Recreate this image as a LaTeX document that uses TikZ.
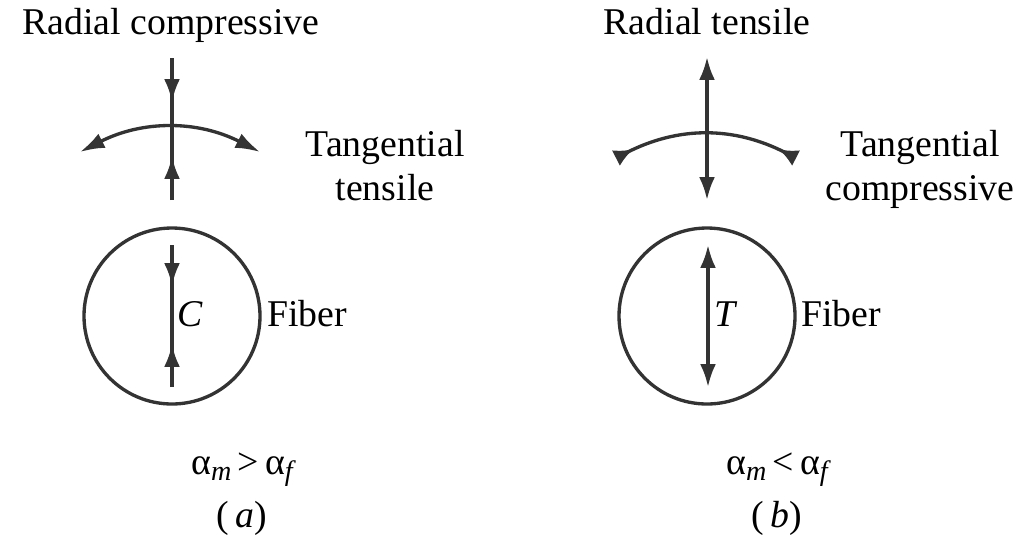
\documentclass[tikz,border=0pt]{standalone}
\usepackage{fontspec}
\setmainfont{Liberation Serif}
\usetikzlibrary{arrows.meta, positioning}

\newcommand{\alphsub}[1]{α\raisebox{-0.4ex}{\fontsize{16}{16}\selectfont\itshape #1}}

\begin{document}
\begin{tikzpicture}[x=0.02cm, y=-0.02cm, line join=round,
    lbl/.style={font=\fontsize{21.5}{24}\selectfont, inner sep=0pt, anchor=base},
    stress/.style={line width=1.9pt, draw=black!80},
    tip/.style={-{Latex[length=13pt, width=9pt]}},
    twotip/.style={{Latex[length=13pt, width=9pt]}-{Latex[length=13pt, width=9pt]}},
    arctip/.style={{Latex[length=14pt, width=9pt]}-{Latex[length=14pt, width=9pt]}},
    arcrev/.style={{Latex[length=11pt, width=10pt, reversed]}-{Latex[length=11pt, width=10pt, reversed]}},
    fiber/.style={circle, draw=black!80, line width=1.9pt, minimum size=176*0.02cm, inner sep=0pt}]
  \useasboundingbox (0,0) rectangle (1033,542);

  % (a) matrix shrinks more than the fiber
  \node[lbl] (radA) at (171,34) {Radial compressive};
  \coordinate (topA) at (172,58);
  \coordinate (tip1A) at (172,102);
  \coordinate (tip2A) at (172,156);
  \coordinate (botA) at (172,200);
  \coordinate (arcLA) at (80,152);
  \coordinate (arcRA) at (260,152);
  \draw[stress] (topA) -- (botA);
  \draw[stress, tip] (topA) -- (tip1A);
  \draw[stress, tip] (botA) -- (tip2A);
  \draw[stress, arctip] (arcLA) to[bend left=27] (arcRA);
  \node[lbl] (tanA) at (385,156) {Tangential};
  \node[lbl] (tenA) at (385,200) {tensile};

  \node[fiber] (fibA) at (172,316) {};
  \coordinate (in1A) at (172,245);
  \coordinate (in2A) at (172,286);
  \coordinate (in3A) at (172,344);
  \coordinate (in4A) at (172,387);
  \draw[stress] (in1A) -- (in4A);
  \draw[stress, tip] (in1A) -- (in2A);
  \draw[stress, tip] (in4A) -- (in3A);
  \node[lbl, font=\fontsize{21.5}{24}\selectfont\itshape] (cA) at (190,326) {C};
  \node[lbl, anchor=base west] (fibtA) at (267,326) {Fiber};
  \node[lbl] (relA) at (242,474) {\alphsub{m}\,>\,\alphsub{f}};
  \node[lbl] (capA) at (242,527) {(\,\textit{a})};

  % (b) fiber shrinks more than the matrix
  \node[lbl] (radB) at (707,34) {Radial tensile};
  \coordinate (topB) at (707,57);
  \coordinate (botB) at (707,200);
  \coordinate (arcLB) at (616,158);
  \coordinate (arcRB) at (796,158);
  \draw[stress, twotip] (topB) -- (botB);
  \draw[stress, arcrev] (arcLB) to[bend left=27] (arcRB);
  \node[lbl] (tanB) at (920,156) {Tangential};
  \node[lbl] (comB) at (920,200) {compressive};

  \node[fiber] (fibB) at (707,316) {};
  \coordinate (in1B) at (708,245);
  \coordinate (in2B) at (708,387);
  \draw[stress, twotip] (in1B) -- (in2B);
  \node[lbl, font=\fontsize{21.5}{24}\selectfont\itshape] (tB) at (725,326) {T};
  \node[lbl, anchor=base west] (fibtB) at (801,326) {Fiber};
  \node[lbl] (relB) at (777,474) {\alphsub{m}\,<\,\alphsub{f}};
  \node[lbl] (capB) at (777,527) {(\,\textit{b})};
\end{tikzpicture}
\end{document}
